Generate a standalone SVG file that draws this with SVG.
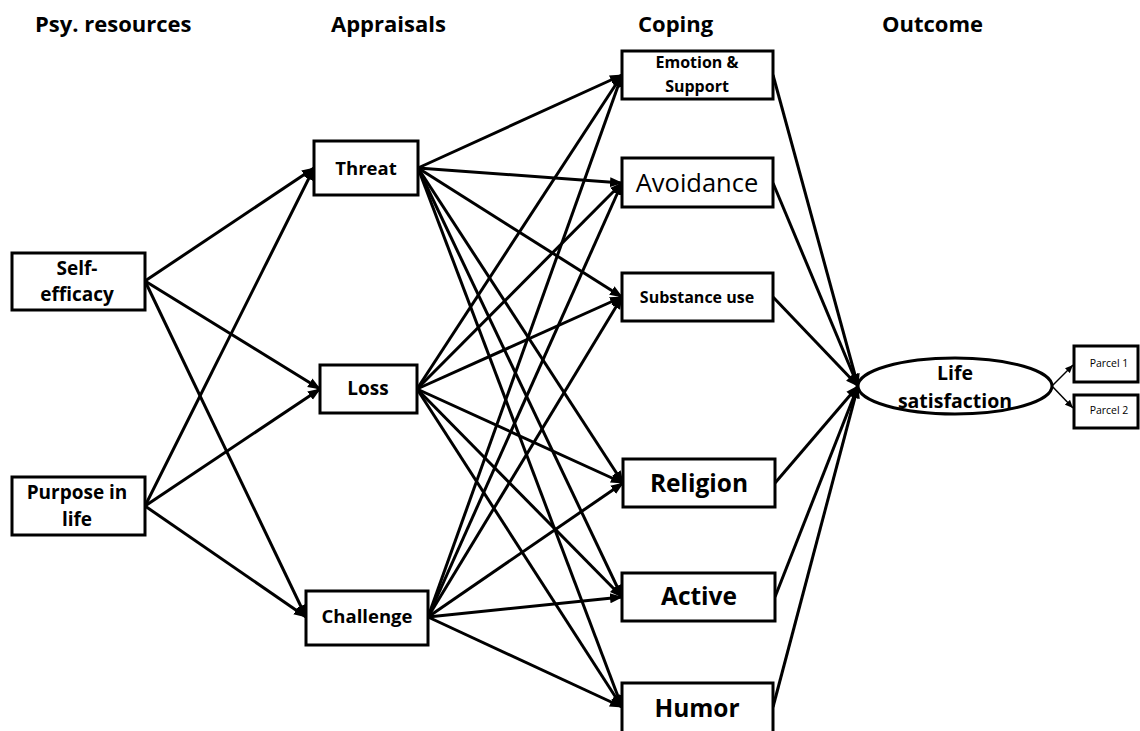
<svg xmlns="http://www.w3.org/2000/svg" width="1140" height="731" viewBox="0 0 1140 731">
<defs>
<marker id="ah" markerUnits="userSpaceOnUse" markerWidth="13" markerHeight="12" refX="12" refY="6" orient="auto">
<path d="M0,1 L13,6 L0,11 z" fill="#000"/>
</marker>
<marker id="ahs" markerUnits="userSpaceOnUse" markerWidth="8" markerHeight="8" refX="8" refY="4" orient="auto">
<path d="M0,0.5 L8,4 L0,7.5 z" fill="#000"/>
</marker>
<style>
.box{fill:#fff;stroke:#000;stroke-width:3}
.t{font-family:"Open Sans","Liberation Sans",sans-serif;font-weight:bold;fill:#000;text-anchor:middle}
.n{font-weight:normal}
.h{font-family:"Open Sans","Liberation Sans",sans-serif;font-weight:bold;font-size:22px;fill:#000}
.c line{stroke:#000;stroke-width:3;marker-end:url(#ah)}
.c .thin{stroke-width:1.5;marker-end:url(#ahs)}
</style>
</defs>
<rect width="1140" height="731" fill="#fff"/>
<g id="headers">
<text class="h" x="35" y="32">Psy. resources</text>
<text class="h" x="331" y="32">Appraisals</text>
<text class="h" x="638" y="32">Coping</text>
<text class="h" x="882" y="32">Outcome</text>
</g>
<g class="c" id="connectors">
<line x1="145" y1="281" x2="314" y2="168"/>
<line x1="145" y1="281" x2="320" y2="389"/>
<line x1="145" y1="281" x2="306" y2="617"/>
<line x1="145" y1="506" x2="314" y2="168"/>
<line x1="145" y1="506" x2="320" y2="389"/>
<line x1="145" y1="506" x2="306" y2="617"/>
<line x1="418" y1="168" x2="622" y2="75"/>
<line x1="418" y1="168" x2="622" y2="183"/>
<line x1="418" y1="168" x2="622" y2="297"/>
<line x1="418" y1="168" x2="623" y2="483"/>
<line x1="418" y1="168" x2="622" y2="597"/>
<line x1="418" y1="168" x2="622" y2="707"/>
<line x1="417" y1="389" x2="622" y2="75"/>
<line x1="417" y1="389" x2="622" y2="183"/>
<line x1="417" y1="389" x2="622" y2="297"/>
<line x1="417" y1="389" x2="623" y2="483"/>
<line x1="417" y1="389" x2="622" y2="597"/>
<line x1="417" y1="389" x2="622" y2="707"/>
<line x1="428" y1="617" x2="622" y2="75"/>
<line x1="428" y1="617" x2="622" y2="183"/>
<line x1="428" y1="617" x2="622" y2="297"/>
<line x1="428" y1="617" x2="623" y2="483"/>
<line x1="428" y1="617" x2="622" y2="597"/>
<line x1="428" y1="617" x2="622" y2="707"/>
<line x1="773" y1="75" x2="858" y2="386"/>
<line x1="773" y1="183" x2="858" y2="386"/>
<line x1="773" y1="297" x2="858" y2="386"/>
<line x1="775" y1="483" x2="858" y2="386"/>
<line x1="775" y1="597" x2="858" y2="386"/>
<line x1="773" y1="707" x2="858" y2="386"/>
<line class="thin" x1="1050" y1="388" x2="1073" y2="365"/>
<line class="thin" x1="1050" y1="384" x2="1073" y2="408"/>
</g>
<g id="self-efficacy"><rect class="box" x="12" y="253" width="133" height="57"/><text class="t" font-size="19" x="77" y="275">Self-</text><text class="t" font-size="19" x="77" y="301">efficacy</text></g>
<g id="purpose"><rect class="box" x="12" y="477" width="133" height="58"/><text class="t" font-size="19" x="77" y="499">Purpose in</text><text class="t" font-size="19" x="77" y="526">life</text></g>
<g id="threat"><rect class="box" x="314" y="141" width="104" height="54"/><text class="t" font-size="18.5" x="366" y="175">Threat</text></g>
<g id="loss"><rect class="box" x="320" y="365" width="97" height="48"/><text class="t" font-size="19" x="368" y="395">Loss</text></g>
<g id="challenge"><rect class="box" x="306" y="591" width="122" height="54"/><text class="t" font-size="18.5" x="367" y="623">Challenge</text></g>
<g id="emotion"><rect class="box" x="622" y="51" width="151" height="48"/><text class="t" font-size="16" x="697" y="68">Emotion &amp;</text><text class="t" font-size="16" x="697" y="92">Support</text></g>
<g id="avoidance"><rect class="box" x="622" y="158" width="151" height="49"/><text class="t n" font-size="25.5" x="697" y="192">Avoidance</text></g>
<g id="substance"><rect class="box" x="622" y="273" width="151" height="48"/><text class="t" font-size="16" x="697" y="303">Substance use</text></g>
<g id="religion"><rect class="box" x="623" y="459" width="152" height="48"/><text class="t" font-size="24.5" x="699" y="492">Religion</text></g>
<g id="active"><rect class="box" x="622" y="573" width="153" height="48"/><text class="t" font-size="24.5" x="699" y="605">Active</text></g>
<g id="humor"><rect class="box" x="622" y="683" width="151" height="50"/><text class="t" font-size="24.5" x="697" y="717">Humor</text></g>
<g id="life-satisfaction"><ellipse cx="955" cy="386" rx="97" ry="28" fill="#fff" stroke="#000" stroke-width="3"/><text class="t" font-size="19.5" x="955" y="380">Life</text><text class="t" font-size="19.5" x="955" y="408">satisfaction</text></g>
<g id="parcel1"><rect class="box" x="1074" y="346" width="64" height="36" stroke-width="2.5"/><text class="t n" font-size="10.5" x="1109" y="367">Parcel 1</text></g>
<g id="parcel2"><rect class="box" x="1074" y="395" width="64" height="33" stroke-width="2.5"/><text class="t n" font-size="10.5" x="1109" y="414">Parcel 2</text></g>
</svg>
